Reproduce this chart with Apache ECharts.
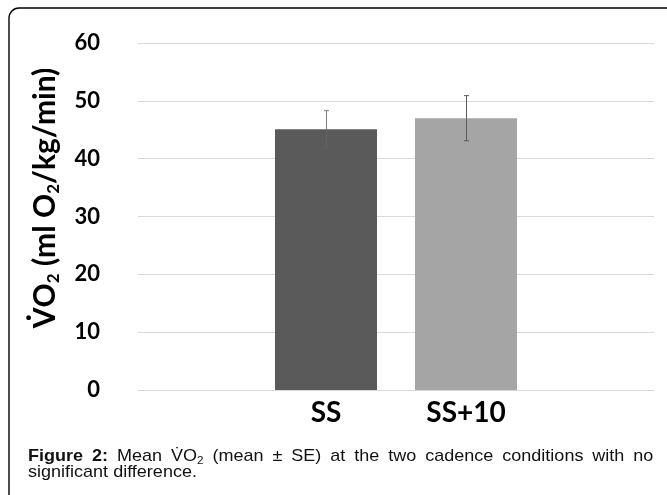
<!DOCTYPE html>
<html>
<head>
<meta charset="utf-8">
<script src="https://cdn.jsdelivr.net/npm/echarts@6/dist/echarts.min.js"></script>
<style>
  html, body { margin:0; padding:0; background:#fff; }
  #wrap { position:relative; width:667px; height:495px; overflow:hidden; }
  #chart { position:absolute; left:0; top:0; width:667px; height:495px; }
  #caption { position:absolute; left:28px; top:448px; width:590px; font-family:"Liberation Sans", Arial, sans-serif;
    font-size:17px; line-height:16px; text-align:justify; color:#111;
    transform:scaleX(1.06); transform-origin:0 0; }
  #caption sub { font-size:11px; line-height:0; vertical-align:-3px; }
</style>
</head>
<body>
<div id="wrap">
  <div id="chart"></div>
  <div id="caption"><b>Figure 2:</b> Mean V&#775;O<sub>2</sub> (mean ± SE) at the two cadence conditions with no significant difference.</div>
</div>
<script>
const categories = ['SS', 'SS+10'];
const meanValues = [45.1, 47.0];
const seValues = [3.2, 3.9];
const yTicks = [0, 10, 20, 30, 40, 50, 60];

const barColors = ['#5a5a5a', '#a5a5a5'];
const errUpperColors = ['#808080', '#5a5a5a'];
const errLowerColors = ['#626262', '#5a5a5a'];

const chart = echarts.init(document.getElementById('chart'), null, { renderer: 'canvas' });
const option = {
  backgroundColor: '#fff',
  animation: false,
  grid: [
    { left: 138, right: 13, top: 43, bottom: 105 },
    { left: 256, right: 131, top: 43, bottom: 105 }
  ],
  xAxis: [
    { type: 'category', gridIndex: 0, data: [''], axisLine: { show: false }, axisTick: { show: false }, axisLabel: { show: false } },
    { type: 'category', gridIndex: 1, data: categories, axisLine: { show: false }, axisTick: { show: false },
      axisLabel: { margin: 9, fontFamily: 'Lato', fontWeight: 'bold', fontSize: 28, color: '#000' } }
  ],
  yAxis: [
    { type: 'value', gridIndex: 0, min: yTicks[0], max: yTicks[yTicks.length - 1], interval: 10,
      axisLine: { show: false }, axisTick: { show: false },
      splitLine: { lineStyle: { color: '#d9d9d9', width: 1.2 } },
      axisLabel: { margin: 38, fontFamily: 'Lato', fontWeight: 'bold', fontSize: 22, color: '#000' } },
    { type: 'value', gridIndex: 1, min: 0, max: 60, interval: 10, show: false, splitLine: { show: false } }
  ],
  graphic: [
    { type: 'rect', shape: { x: 9, y: 8, width: 720, height: 560, r: 10 }, style: { fill: 'none', stroke: '#000', lineWidth: 1.4 }, z: 100 },
    { type: 'text', x: 45, y: 198, rotation: Math.PI / 2,
      style: {
        text: '{b|V\u0307O}{s|2}{b| (ml O}{s|2}{b|/kg/min)}',
        textAlign: 'center', textVerticalAlign: 'middle',
        rich: {
          b: { fontFamily: 'Lato, DejaVu Sans', fontWeight: 'bold', fontSize: 30, lineHeight: 34, fill: '#000' },
          s: { fontFamily: 'Lato', fontWeight: 'bold', fontSize: 17, lineHeight: 16, verticalAlign: 'bottom', fill: '#000' }
        }
      }
    }
  ],
  series: [
    { type: 'bar', xAxisIndex: 1, yAxisIndex: 1, barWidth: 102,
      data: meanValues.map((v, i) => ({ value: v, itemStyle: { color: barColors[i] } })) },
    { type: 'custom', xAxisIndex: 1, yAxisIndex: 1, z: 5,
      data: meanValues.map((v, i) => [i, v - seValues[i], v + seValues[i], v]),
      renderItem: function (params, api) {
        const i = api.value(0);
        const lo = api.coord([i, api.value(1)]);
        const hi = api.coord([i, api.value(2)]);
        const mid = api.coord([i, api.value(3)]);
        const x = Math.round(lo[0]) + 0.5;
        const up = { stroke: errUpperColors[params.dataIndex], lineWidth: 1 };
        const dn = { stroke: errLowerColors[params.dataIndex], lineWidth: 1 };
        return { type: 'group', children: [
          { type: 'line', shape: { x1: x, y1: hi[1], x2: x, y2: mid[1] }, style: up },
          { type: 'line', shape: { x1: x, y1: mid[1], x2: x, y2: lo[1] }, style: dn },
          { type: 'line', shape: { x1: x - 2.5, y1: hi[1], x2: x + 2.5, y2: hi[1] }, style: up },
          { type: 'line', shape: { x1: x - 2.5, y1: lo[1], x2: x + 2.5, y2: lo[1] }, style: dn }
        ] };
      }
    }
  ]
};
chart.setOption(option);
</script>
</body>
</html>
